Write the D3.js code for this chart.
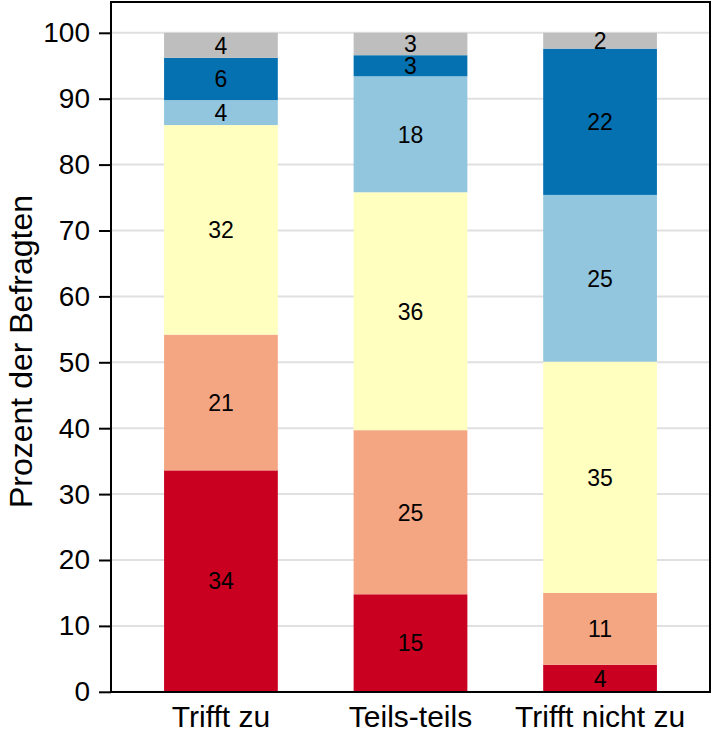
<!DOCTYPE html>
<html>
<head>
<meta charset="utf-8">
<script src="https://cdn.jsdelivr.net/npm/d3@7"></script>
<style>
  html, body { margin: 0; padding: 0; background: #fff; }
  svg { display: block; }
  text { font-family: "Liberation Sans", Arial, Helvetica, sans-serif; fill: #000; }
</style>
</head>
<body>
<svg id="chart" width="712" height="735"></svg>
<script>
// Categories (x axis)
const categories = ["Trifft zu", "Teils-teils", "Trifft nicht zu"];
// Stacked series, bottom to top (percent)
const s1 = [33.6, 14.8, 4.1];   // red
const s2 = [20.6, 24.9, 10.9];  // salmon
const s3 = [31.8, 36.1, 35.1];  // light yellow
const s4 = [3.8, 17.6, 25.3];   // light blue
const s5 = [6.4, 3.2, 22.2];    // dark blue
const s6 = [3.8, 3.4, 2.4];     // gray
const seriesNames = ["s1", "s2", "s3", "s4", "s5", "s6"];
const seriesValues = [s1, s2, s3, s4, s5, s6];
const seriesColors = ["#CA0020", "#F4A582", "#FFFFC0", "#92C5DE", "#0571B0", "#BEBEBE"];
const yTicks = [0, 10, 20, 30, 40, 50, 60, 70, 80, 90, 100];
const yTitle = "Prozent der Befragten";

const svg = d3.select("#chart");
const pLeft = 111, pRight = 710, pTop = 2, pBottom = 692;

const x = d3.scaleBand().domain(categories).range([pLeft, pRight])
  .paddingInner(0.4).paddingOuter(0.28);
const y = d3.scaleLinear().domain([0, 100]).range([691.8, 32.8]);

// table for stacking
const table = categories.map((c, i) => {
  const row = { cat: c };
  seriesNames.forEach((n, k) => row[n] = seriesValues[k][i]);
  return row;
});
const stacked = d3.stack().keys(seriesNames)(table);

// gridlines
svg.append("g").selectAll("line").data(yTicks).join("line")
  .attr("x1", pLeft).attr("x2", pRight)
  .attr("y1", d => y(d)).attr("y2", d => y(d))
  .attr("stroke", "#e0e0e0").attr("stroke-width", 2);

// bars
const layers = svg.append("g").selectAll("g").data(stacked).join("g")
  .attr("fill", (d, i) => seriesColors[i]);
layers.selectAll("rect").data(d => d).join("rect")
  .attr("x", d => x(d.data.cat))
  .attr("width", x.bandwidth())
  .attr("y", d => y(d[1]))
  .attr("height", d => y(d[0]) - y(d[1]));

// labels
const lab = svg.append("g");
stacked.forEach(layer => {
  layer.forEach(d => {
    lab.append("text")
      .attr("x", x(d.data.cat) + x.bandwidth() / 2)
      .attr("y", (y(d[0]) + y(d[1])) / 2)
      .attr("dy", "0.36em")
      .attr("text-anchor", "middle")
      .style("font-size", "23px")
      .text(Math.round(d[1] - d[0]));
  });
});

// frame
svg.append("rect").attr("x", pLeft).attr("y", pTop)
  .attr("width", pRight - pLeft).attr("height", pBottom - pTop)
  .attr("fill", "none").attr("stroke", "#000").attr("stroke-width", 2);

// y axis
const yAxis = svg.append("g").attr("transform", `translate(${pLeft},0)`)
  .call(d3.axisLeft(y).tickValues(yTicks).tickSize(12).tickPadding(9));
yAxis.select(".domain").remove();
yAxis.selectAll("line").attr("stroke", "#000").attr("stroke-width", 2);
yAxis.selectAll("text").style("font-size", "28px").attr("font-family", null);

// x axis
const xAxis = svg.append("g").attr("transform", `translate(0,${pBottom})`)
  .call(d3.axisBottom(x).tickSize(0));
xAxis.select(".domain").remove();
xAxis.selectAll("text").style("font-size", "30px").attr("y", 35).attr("dy", 0).attr("font-family", null);

// y title
svg.append("text")
  .attr("transform", `translate(32,351.5) rotate(-90)`)
  .attr("text-anchor", "middle")
  .style("font-size", "32px")
  .text(yTitle);
</script>
</body>
</html>
